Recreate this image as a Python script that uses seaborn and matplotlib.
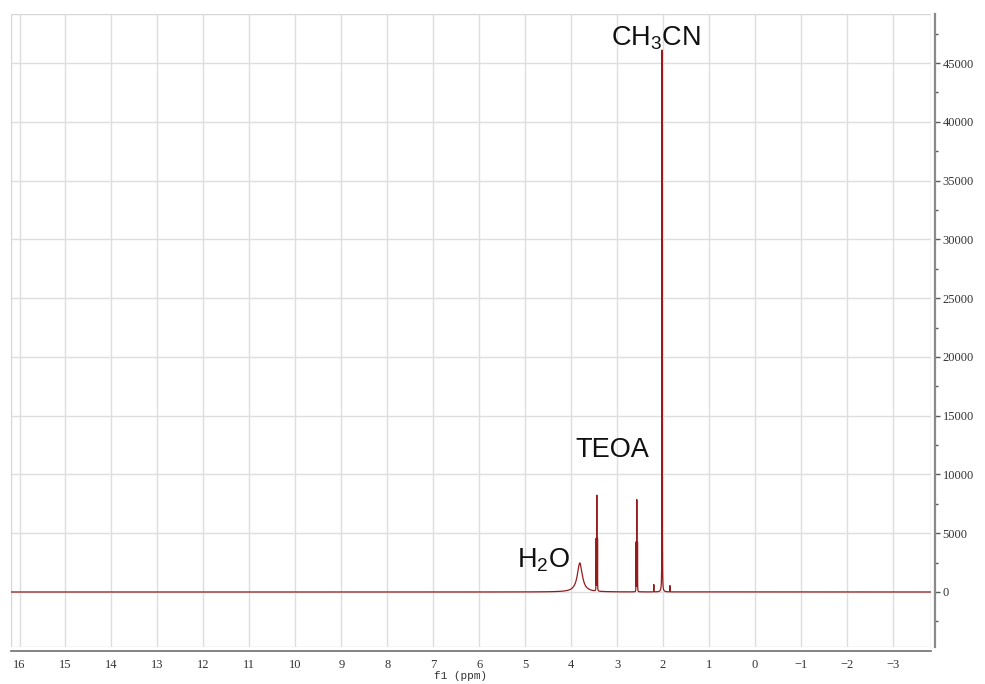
import numpy as np
import pandas as pd
import matplotlib
matplotlib.use("Agg")
import matplotlib.pyplot as plt
from matplotlib.patches import Rectangle
from matplotlib.ticker import MultipleLocator
import seaborn as sns

# 1H NMR peak list: chemical shift (ppm), intensity, half-width at half-maximum (ppm)
peak_ppm = [3.81, 3.455, 3.440, 3.425, 2.585, 2.570, 2.555, 2.20, 2.02, 1.85]
peak_height = [2470, 4400, 8080, 4400, 4170, 7770, 4170, 620, 46100, 530]
peak_hwhm = [0.065, 0.0015, 0.0015, 0.0015, 0.0015, 0.0015, 0.0015, 0.0015, 0.0022, 0.0015]

# annotations: text, shift, intensity position
label_text = ["CH$_3$CN", "TEOA", "H$_2$O"]
label_ppm = [2.15, 3.11, 4.61]
label_y = [47100, 12070, 2720]

x_ticks = list(range(16, -4, -1))
y_ticks = list(range(0, 50000, 5000))

sns.set_style("white")
plt.rcParams["mathtext.default"] = "regular"

# spectrum as a sum of Lorentzian lines
ppm = np.union1d(np.linspace(-3.83, 16.185, 50001), np.array(peak_ppm))
intensity = np.zeros_like(ppm)
for p, h, w in zip(peak_ppm, peak_height, peak_hwhm):
    intensity += h * w**2 / ((ppm - p) ** 2 + w**2)
spec = pd.DataFrame({"ppm": ppm, "intensity": intensity})

fig = plt.figure(figsize=(9.85, 6.84), dpi=100)
W, H = 985, 684
ax = fig.add_axes([11 / W, 1 - 647 / H, 920 / W, 633 / H])

sns.lineplot(data=spec, x="ppm", y="intensity", ax=ax, color="#941c1c",
             linewidth=0.9, estimator=None, sort=False)

ax.set_xlim(16.185, -3.83)
ax.set_ylim(-4680, 49170)

ax.xaxis.set_major_locator(MultipleLocator(1))
ax.xaxis.set_minor_locator(MultipleLocator(0.5))
ax.yaxis.set_major_locator(MultipleLocator(5000))
ax.yaxis.set_minor_locator(MultipleLocator(2500))
ax.set_xticks(x_ticks)
ax.set_xticklabels([str(t) if t >= 0 else "\u2212" + str(-t) for t in x_ticks])
ax.set_yticks(y_ticks)
ax.set_yticklabels([str(t) for t in y_ticks])

ax.yaxis.tick_right()
ax.grid(True, which="major", color="#dedede", linewidth=1.0)
ax.set_axisbelow(True)

for side in ["top", "left"]:
    ax.spines[side].set_visible(False)
ax.spines["bottom"].set_position(("outward", 3))
ax.spines["right"].set_position(("outward", 3))
ax.spines["bottom"].set_color("#6e6e6e")
ax.spines["right"].set_color("#8a8a8a")
ax.spines["bottom"].set_linewidth(1.2)
ax.spines["right"].set_linewidth(1.6)

# light frame around the plot area
ax.add_patch(Rectangle((0, 0), 1, 1, transform=ax.transAxes, fill=False,
                       edgecolor="#d6d6d6", linewidth=1.0, zorder=0.5))

ax.tick_params(axis="x", which="major", direction="out", length=3.8, width=1,
               color="#5a5a5a", pad=2, labelsize=9, labelcolor="#333333")
ax.tick_params(axis="x", which="minor", direction="out", length=1.6, width=1,
               color="#5a5a5a")
ax.tick_params(axis="y", which="major", direction="out", length=3.8, width=1,
               color="#5a5a5a", pad=1.5, labelsize=9, labelcolor="#333333",
               right=True, left=False)
ax.tick_params(axis="y", which="minor", direction="out", length=2.2, width=1,
               color="#5a5a5a", right=True, left=False)
for lab in ax.get_xticklabels() + ax.get_yticklabels():
    lab.set_fontfamily("Liberation Serif")

ax.set_ylabel("")
ax.set_xlabel("f1 (ppm)", family="Liberation Mono", fontsize=8, color="#333333")
ax.xaxis.set_label_coords(0.489, -0.046)
ax.xaxis.label.set_va("center")

for t, xp, yp in zip(label_text, label_ppm, label_y):
    ax.text(xp, yp, t, ha="center", va="center", fontsize=19.5,
            family="Liberation Sans", color="#111111")

fig.savefig("out.png", dpi=100)
